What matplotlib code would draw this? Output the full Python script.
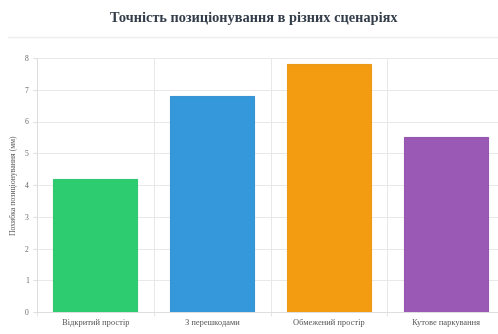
import matplotlib
matplotlib.use("Agg")
import matplotlib.pyplot as plt
import numpy as np

categories = ["Відкритий простір", "З перешкодами", "Обмежений простір", "Кутове паркування"]
values = [4.2, 6.8, 7.8, 5.5]
colors = ["#2ecc71", "#3498db", "#f39c12", "#9b59b6"]
edge_colors = ["#34c772", "#3a95d4", "#eb9a1a", "#9657b0"]
title = "Точність позиціонування в різних сценаріях"
ylabel = "Похибка позиціонування (мм)"
yticks = [0, 1, 2, 3, 4, 5, 6, 7, 8]

plt.rcParams['font.family'] = ['Liberation Serif', 'DejaVu Serif']

fig = plt.figure(figsize=(4.98, 3.34), dpi=100)
fig.patch.set_facecolor("white")
ax = fig.add_axes([37/498, 1-312/334, (504-37)/498, (312-58)/334])

x = np.arange(len(categories))
ax.bar(x, values, width=0.72, color=colors, edgecolor=edge_colors, linewidth=0.8, zorder=3)

ax.set_xlim(-0.5, len(categories) - 0.5)
ax.set_ylim(0, 8)
ax.set_yticks(yticks)
ax.set_yticklabels([str(t) for t in yticks], fontsize=5.5, color="#666666")
ax.set_xticks(x)
ax.set_xticklabels(categories, fontsize=6, color="#555555")
ax.set_xticks(np.arange(len(categories) + 1) - 0.5, minor=True)
ax.tick_params(axis='x', which='major', length=0, pad=5)
ax.tick_params(axis='x', which='minor', length=3, color="#e0e0e0")
ax.tick_params(axis='y', length=3, color="#e0e0e0", pad=3)
ax.grid(True, axis='y', color="#e8e8e8", linewidth=0.7, zorder=0)
ax.grid(True, axis='x', which='minor', color="#e8e8e8", linewidth=0.7, zorder=0)
for s in ["top", "right"]:
    ax.spines[s].set_visible(False)
ax.spines["left"].set_color("#dddddd")
ax.spines["bottom"].set_color("#dddddd")
ax.spines["left"].set_linewidth(0.7)
ax.spines["bottom"].set_linewidth(0.7)

ax.set_ylabel(ylabel, fontsize=5.6, color="#555555", labelpad=5)

fig.text(0.51, 1-18/334, title, ha="center", va="center", fontsize=10.4, fontweight="bold", color="#333d4a")
fig.add_artist(plt.Line2D([8/498, 1.0], [1-37/334, 1-37/334], color="#eeeeee", linewidth=1.0))

fig.savefig("out.png", dpi=100, facecolor="white")
